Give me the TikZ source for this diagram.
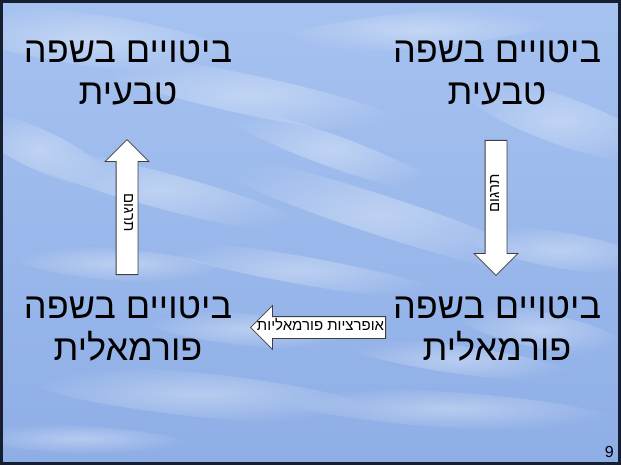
\documentclass[tikz,border=0pt]{standalone}
\usepackage{fontspec}
\setmainfont{Liberation Sans}
\newfontfamily\hebfont[Script=Hebrew]{Liberation Sans}
\TeXXeTstate=1
\usetikzlibrary{shapes.arrows,fadings}
\definecolor{skytop}{RGB}{166,194,240}
\definecolor{skybot}{RGB}{142,174,230}
\definecolor{framecol}{RGB}{22,30,48}
\tikzfading[name=softwisp,inner color=transparent!0,outer color=transparent!100]
\tikzset{
  heb/.style={font=\hebfont\fontsize{36}{42}\selectfont,align=center,inner sep=0pt},
  blockarrow/.style={single arrow,draw=black!75,fill=white,line width=.8pt,
    font=\hebfont\fontsize{15}{15}\selectfont,text height=8pt,text depth=2pt,
    inner ysep=5.5pt,inner xsep=2pt,single arrow head extend=11pt,
    single arrow tip angle=90,minimum height=135pt,shape border rotate=180},
  wisp/.style={white,path fading=softwisp,opacity=.35}
}
\begin{document}
\begin{tikzpicture}[x=1pt,y=-1pt]
	\useasboundingbox (0,0) rectangle (621,465);
	% sky
	\shade[top color=skytop,bottom color=skybot] (0,0) rectangle (621,465);
	\foreach \cx/\cy/\rx/\ry/\g in {90/40/150/26/-8,250/95/170/20/-12,420/30/140/18/5,
		560/120/110/24/-20,160/190/160/18/-15,380/215/190/20/-18,560/250/100/18/-10,
		120/265/110/16/-5,300/270/150/14/-10,200/395/180/22/-6,450/410/170/18/-4,
		80/440/110/14/-3,540/330/90/18/-12,330/150/120/16/-20,40/150/80/20/-25,
		460/360/120/14/-8,250/330/110/16/-6}
		\fill[wisp,rotate around={\g:(\cx,\cy)}] (\cx,\cy) ellipse (\rx pt and \ry pt);
	% Ausdruecke
	\path
	(128,105) coordinate (TL)
	(497,105) coordinate (TR)
	(128,360) coordinate (BL)
	(497,360) coordinate (BR)
	;
	\foreach \x/\w in {TL/טבעית,TR/טבעית,BL/פורמאלית,BR/פורמאלית}
		\node[heb,anchor=base] (\x n) at (\x) {\beginR ביטויים בשפה\endR\\\beginR \w\endR};
	% Pfeile
	\node[blockarrow,rotate=90,anchor=tail] (A) at (496,140) {\makebox[37pt]{\hspace*{18pt}\beginR תרגום\endR}};
	\node[blockarrow,anchor=tail] (B) at (386,327.5) {\makebox[100pt]{\beginR אופרציות פורמאליות\endR\hspace*{6pt}}};
	\node[blockarrow,rotate=-90,anchor=tail] (C) at (127,275) {\makebox[37pt]{\beginR תרגום\endR}};
	\node[font=\fontsize{16}{16}\selectfont,anchor=base east,inner sep=0pt] (pg) at (614,457) {9};
	\draw[framecol,line width=3pt] (1.5,1.5) rectangle (619.5,463.5);
\end{tikzpicture}
\end{document}
